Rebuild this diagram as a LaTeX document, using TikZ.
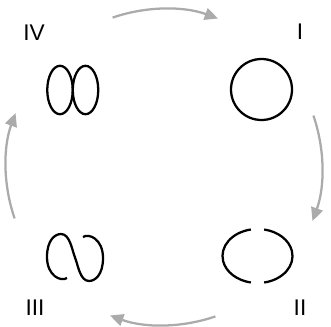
\documentclass[tikz,border=0pt]{standalone}
\usepackage{fontspec}
\setmainfont{Liberation Sans}
\usetikzlibrary{arrows.meta}

\begin{document}
\begin{tikzpicture}[x=0.75pt,y=0.75pt,
    curve/.style={line width=1.7pt,black},
    cyclearrow/.style={line width=1.7pt,color=black!33,
        -{Triangle[length=10pt,width=9pt]}},
    lab/.style={font=\fontsize{17pt}{19pt}\selectfont,inner sep=0pt}]
            \useasboundingbox (0,0) rectangle (331,326);

            \coordinate (cyc) at (164,159);

            % state labels
            \node[lab] (lI)   at (300,294) {I};
            \node[lab] (lII)  at (300,18)  {II};
            \node[lab] (lIII) at (35,18)   {III};
            \node[lab] (lIV)  at (34,293)  {IV};

            % I: circle
            \draw[curve] (261.5,236.5) circle[radius=30.5];

            % II: broken ellipse
            \coordinate (II) at (257.5,70);
            \draw[curve] (II) ++(101:35 and 27) arc[start angle=101, end angle=259, x radius=35, y radius=27];
            \draw[curve] (II) ++(-79:35 and 27) arc[start angle=-79, end angle=79, x radius=35, y radius=27];

            % III: reconnected curve
            \draw[curve] (67,48) .. controls (61,44) and (47,50) .. (47,69)
                .. controls (47,86) and (55,92) .. (61,92)
                .. controls (70,92) and (72,76) .. (75,68.5)
                .. controls (78,61) and (80,45) .. (89,45)
                .. controls (95,45) and (103,51) .. (103,68)
                .. controls (103,87) and (89,93) .. (83,89);

            % IV: two loops
            \draw[curve] (60,236) ellipse[x radius=12.75, y radius=24.2];
            \draw[curve] (85.5,236) ellipse[x radius=12.75, y radius=24.2];

            % cycle arrows
            \foreach \a in {90,0,-90,180}
                \draw[cyclearrow] (cyc) ++(\a+19:158) arc[start angle=\a+19, end angle=\a-20, radius=158];
        \end{tikzpicture}
\end{document}
